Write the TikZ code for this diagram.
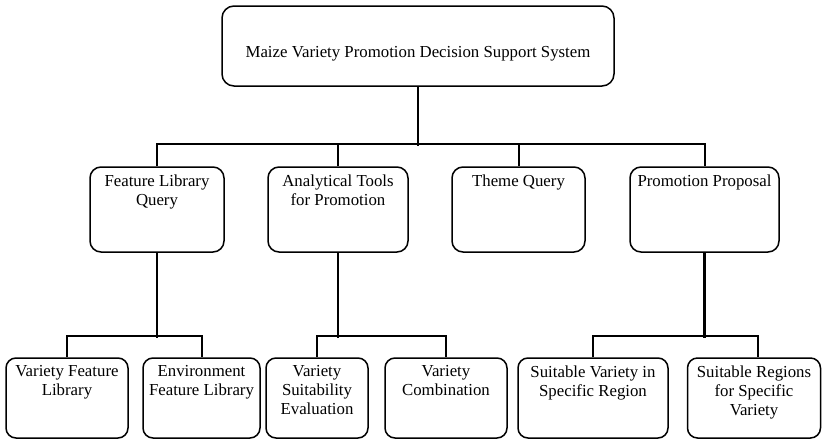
\documentclass[tikz,border=0pt]{standalone}
\usepackage{fontspec}
\setmainfont{Liberation Serif}
\begin{document}
\begin{tikzpicture}[x=1pt,y=-1pt,
  txt/.style={font=\fontsize{16.8}{19}\selectfont,align=center,inner sep=0pt},
  box/.style={draw,line width=1.5pt,rounded corners=11pt,inner sep=0pt,minimum height=85pt},
  sub/.style={box,minimum height=80pt,rounded corners=10pt},
  head/.style={label={[txt,anchor=north,yshift=-8pt]north:#1}},
  link/.style={line width=2pt},
  drop/.style={line width=2.8pt}]
\useasboundingbox (0,0) rectangle (822,439);
\node[box,minimum width=392pt,minimum height=80pt,rounded corners=12pt,
  label={[txt,yshift=-8pt]center:Maize Variety Promotion Decision Support System}](t) at (418,46) {};

\node[box,minimum width=134pt,head={Feature Library\\Query}](b1) at (157,209.5) {};
\node[box,minimum width=140pt,head={Analytical Tools\\for Promotion}](b2) at (338,209.5) {};
\node[box,minimum width=133pt,head={Theme Query}](b3) at (518.5,209.5) {};
\node[box,minimum width=149pt,head={Promotion Proposal}](b4) at (704.5,209.5) {};

\node[sub,minimum width=122pt,head={Variety Feature\\Library}](c1) at (67,398) {};
\node[sub,minimum width=117pt,head={Environment\\Feature Library}](c2) at (201.5,398) {};
\node[sub,minimum width=102pt,head={Variety\\Suitability\\Evaluation}](c3) at (317,398) {};
\node[sub,minimum width=122pt,head={Variety\\Combination}](c4) at (446,398) {};
\node[sub,minimum width=150pt,head={Suitable Variety in\\Specific Region}](c5) at (593,398) {};
\node[sub,minimum width=133pt,head={Suitable Regions\\for Specific\\Variety}](c6) at (754,398) {};

\draw[drop] (t.south) -- ++(0,59);
\draw[link] (b1.north) -- ++(0,-22) -| (b4.north);
\draw[link] (b2.north) -- ++(0,-22);
\draw[link] (b3.north) -- ++(0,-22);

\draw[drop] (b1.south) -- ++(0,85);
\draw[link] (c1.north) -- ++(0,-21) -| (c2.north);
\draw[drop] (b2.south) -- ++(0,85);
\draw[link] (c3.north) -- ++(0,-21) -| (c4.north);
\draw[drop] (b4.south) -- ++(0,85);
\draw[link] (c5.north) -- ++(0,-21) -| ([xshift=4pt]c6.north);
\end{tikzpicture}
\end{document}
